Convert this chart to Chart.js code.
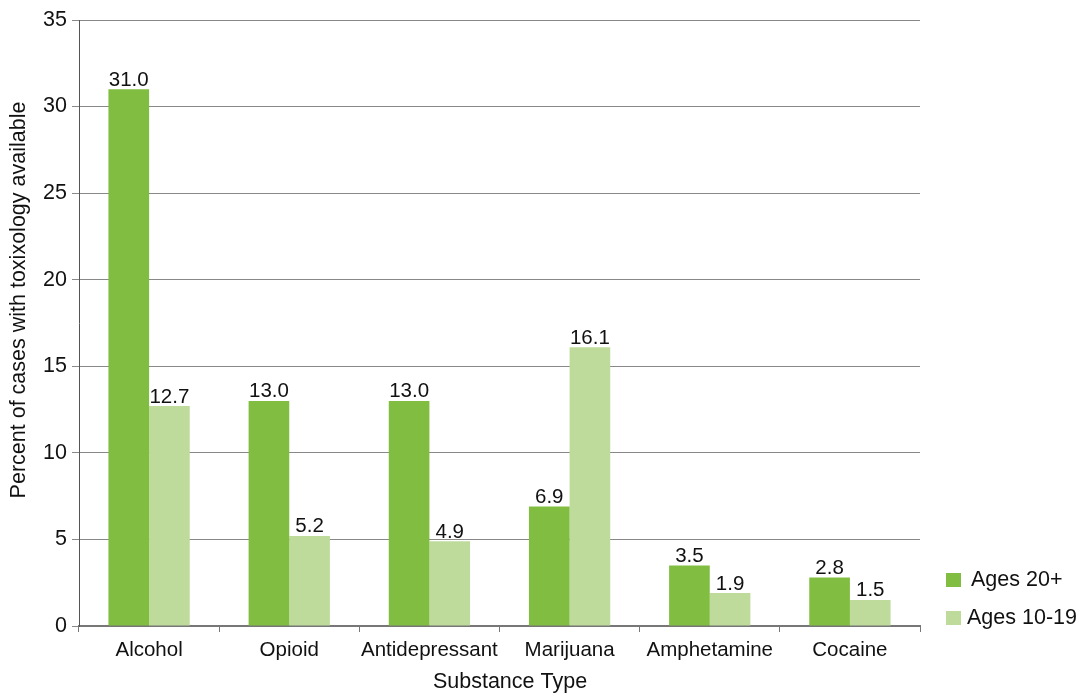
<!DOCTYPE html>
<html lang="en">
<head>
    <meta charset="UTF-8">
    <title>Substance Type</title>
    <script src="https://cdn.jsdelivr.net/npm/chart.js"></script>
    <style>
        html, body { margin: 0; padding: 0; background: #fff; }
        #wrap { width: 1080px; height: 694px; }
    </style>
</head>
<body>
    <div id="wrap"><canvas id="barChart"></canvas></div>

    <script>
        const substances = ["Alcohol", "Opioid", "Antidepressant", "Marijuana", "Amphetamine", "Cocaine"];
        const adults = [31.0, 13.0, 13.0, 6.9, 3.5, 2.8];
        const youth = [12.7, 5.2, 4.9, 16.1, 1.9, 1.5];
        const yTicks = [0, 5, 10, 15, 20, 25, 30, 35];
        const seriesNames = ["Ages 20+", "Ages 10-19"];
        const seriesColors = ["#80bd41", "#bedb9c"];

        const FONT = "'Liberation Sans', Arial, sans-serif";
        const INK = "#111";

        // value labels above bars, axis titles and the legend at bottom right
        const extras = {
            id: "extras",
            afterDatasetsDraw(chart) {
                const ctx = chart.ctx;
                ctx.save();
                ctx.fillStyle = INK;

                ctx.font = "20.5px " + FONT;
                ctx.textAlign = "center";
                ctx.textBaseline = "bottom";
                chart.data.datasets.forEach((ds, i) => {
                    chart.getDatasetMeta(i).data.forEach((bar, j) => {
                        ctx.fillText(ds.data[j].toFixed(1), bar.x, bar.y + 1);
                    });
                });

                // axis titles
                ctx.font = "21.5px " + FONT;
                ctx.textBaseline = "middle";
                ctx.fillText("Substance Type", 510, 682);
                ctx.save();
                ctx.translate(19, 300);
                ctx.rotate(-Math.PI / 2);
                ctx.fillText("Percent of cases with toxixology available", 0, 0);
                ctx.restore();

                // legend
                ctx.textAlign = "left";
                const rows = [580, 618];
                const textX = [971, 967];
                seriesNames.forEach((name, i) => {
                    ctx.fillStyle = seriesColors[i];
                    ctx.fillRect(946, rows[i] - 7, 15, 14);
                    ctx.fillStyle = INK;
                    ctx.fillText(name, textX[i], rows[i]);
                });
                ctx.restore();
            }
        };

        new Chart(document.getElementById("barChart"), {
            type: "bar",
            data: {
                labels: substances,
                datasets: [
                    { label: seriesNames[0], data: adults, backgroundColor: seriesColors[0] },
                    { label: seriesNames[1], data: youth, backgroundColor: seriesColors[1] }
                ]
            },
            options: {
                responsive: true,
                maintainAspectRatio: false,
                animation: false,
                layout: { padding: { top: 20, right: 160, left: 0, bottom: 0 } },
                datasets: { bar: { categoryPercentage: 0.58, barPercentage: 1.0 } },
                plugins: {
                    legend: { display: false },
                    tooltip: { enabled: false }
                },
                scales: {
                    x: {
                        afterFit(axis) { axis.height = 68; },
                        grid: { drawOnChartArea: false, drawTicks: true, tickLength: 6, color: "#777" },
                        border: { color: "#777", width: 2 },
                        ticks: { font: { family: FONT, size: 20.5 }, color: INK, padding: 6, maxRotation: 0, minRotation: 0, autoSkip: false }
                    },
                    y: {
                        min: 0,
                        max: 35,
                        afterBuildTicks(axis) { axis.ticks = yTicks.map(v => ({ value: v })); },
                        afterFit(axis) { axis.width = 79; },
                        grid: { color: "#888", tickLength: 7 },
                        border: { color: "#555" },
                        ticks: { font: { family: FONT, size: 21.5 }, color: INK, padding: 5 }
                    }
                }
            },
            plugins: [extras]
        });
    </script>
</body>
</html>
